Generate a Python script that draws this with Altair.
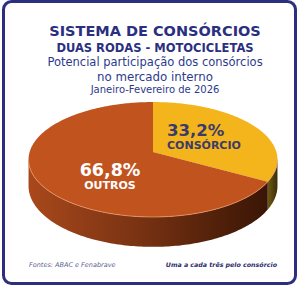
import numpy as np
import pandas as pd
import altair as alt

# ---- data ----
categories = ["CONSÓRCIO", "OUTROS"]
shares = [33.2, 66.8]
share_labels = ["33,2%", "66,8%"]

title_lines = ["SISTEMA DE CONSÓRCIOS", "DUAS RODAS - MOTOCICLETAS",
               "Potencial participação dos consórcios", "no mercado interno",
               "Janeiro-Fevereiro de 2026"]
source_text = "Fontes: ABAC e Fenabrave"
tagline_text = "Uma a cada três pelo consórcio"

# ---- geometry / style (tilted disc projected in perspective) ----
W, H = 300, 287
CX, CY = 153.0, 152.0
A, B, K = 123.4, 56.5, 0.1304
DEPTH = 26.0
NAVY = "#2c2f7e"
TOP_COL = {"CONSÓRCIO": "#f3b51b", "OUTROS": "#c1531f"}


def proj(theta_deg, r=1.0, drop=0.0):
    t = np.radians(theta_deg)
    u = r * np.sin(t)
    v = -r * np.cos(t)
    w = 1 - K * v
    return CX + A * u / w, CY + B * v / w + drop / w


# slice angles from the shares
tot = sum(shares)
starts, ends = [], []
acc = 0.0
for s in shares:
    starts.append(acc / tot * 360)
    acc += s
    ends.append(acc / tot * 360)

theta_r = np.degrees(np.arccos(-K))
theta_l = 360 - theta_r

tops, rims = [], []
for cat, s, e in zip(categories, starts, ends):
    th = np.linspace(s, e, max(3, int(e - s) + 1))
    xs, ys = proj(th)
    pts = [(CX, CY)] + list(zip(xs, ys))
    tops.append(pd.DataFrame({"x": [p[0] for p in pts], "y": [p[1] for p in pts],
                              "o": range(len(pts)), "cat": cat}))
    a, b = max(s, theta_r), min(e, theta_l)
    if b > a:
        th = np.linspace(a, b, max(3, int(b - a) + 1))
        x1, y1 = proj(th)
        x2, y2 = proj(th[::-1], drop=DEPTH)
        xx = list(x1) + list(x2)
        yy = list(y1) + list(y2)
        rims.append(pd.DataFrame({"x": xx, "y": yy, "o": range(len(xx)), "cat": cat}))

xs_ = alt.Scale(domain=[0, W], range=[0, W], nice=False, zero=False)
ys_ = alt.Scale(domain=[0, H], range=[0, H], nice=False, zero=False)


def poly(df, fill):
    return alt.Chart(df).mark_line(fill=fill, stroke=None, strokeWidth=0, interpolate="linear").encode(
        x=alt.X("x:Q", scale=xs_, axis=None),
        y=alt.Y("y:Q", scale=ys_, axis=None),
        order="o:Q",
    )


def grad(stops):
    return alt.Gradient(gradient="linear", x1=0, x2=1, y1=0, y2=0,
                        stops=[alt.GradientStop(color=c, offset=o) for o, c in stops])


rim_fill = {
    "CONSÓRCIO": grad([(0, "#6e5a12"), (1, "#3b2c08")]),
    "OUTROS": grad([(0, "#a9481b"), (0.45, "#7a3313"), (0.85, "#4a1d08"), (1, "#3a1606")]),
}

frame = alt.Chart(pd.DataFrame({"a": [0]})).mark_rect(
    fill="white", stroke=NAVY, strokeWidth=3, cornerRadius=8
).encode(x=alt.value(3.5), x2=alt.value(295.5), y=alt.value(1.5), y2=alt.value(283.5))

layers = [frame]
for df in rims:
    layers.append(poly(df, rim_fill[df["cat"].iloc[0]]))
for df in tops:
    layers.append(poly(df, TOP_COL[df["cat"].iloc[0]]))

# light edge where top face meets the rim
th = np.linspace(theta_r, theta_l, 120)
ex, ey = proj(th)
edge = pd.DataFrame({"x": ex, "y": ey, "o": range(len(ex))})
layers.append(alt.Chart(edge).mark_line(color="#e79a6a", strokeWidth=1, opacity=0.8).encode(
    x=alt.X("x:Q", scale=xs_, axis=None), y=alt.Y("y:Q", scale=ys_, axis=None), order="o:Q"))


def txt(text, x, y, size, weight="normal", color=NAVY, style="normal", align="center", font="DejaVu Sans"):
    return alt.Chart(pd.DataFrame({"t": [text]})).mark_text(
        fontSize=size, fontWeight=weight, color=color, fontStyle=style, align=align,
        baseline="middle", font=font
    ).encode(text="t:N", x=alt.value(x), y=alt.value(y))


layers += [
    txt(title_lines[0], 155, 32, 14.5, "bold", "#2b2f80"),
    txt(title_lines[1], 155, 49, 11.5, "bold", "#2b2f80"),
    txt(title_lines[2], 155, 63, 11.5, "normal", "#2d3a8c"),
    txt(title_lines[3], 155, 77, 11.8, "normal", "#2d3a8c"),
    txt(title_lines[4], 155, 89.5, 10, "normal", "#2d3a8c"),
    txt(share_labels[0], 167, 131, 16.5, "bold", "#3c3a6c", align="left"),
    txt(categories[0], 167, 146, 11, "bold", "#3c3a6c", align="left"),
    txt(share_labels[1], 110, 171, 17.5, "bold", "white"),
    txt(categories[1], 110, 186, 11, "bold", "white"),
    txt(source_text, 29, 265, 6.5, "normal", "#5b6090", "italic", "left"),
    txt(tagline_text, 277, 265, 6.3, "bold", "#2b2e6e", "italic", "right"),
]

chart = alt.layer(*layers).properties(
    width=W, height=H, padding=0, autosize=alt.AutoSizeParams(type="none"),
    background="white"
).configure_view(stroke=None)

chart.save("out.html", embed_options={"renderer": "svg", "actions": False})
